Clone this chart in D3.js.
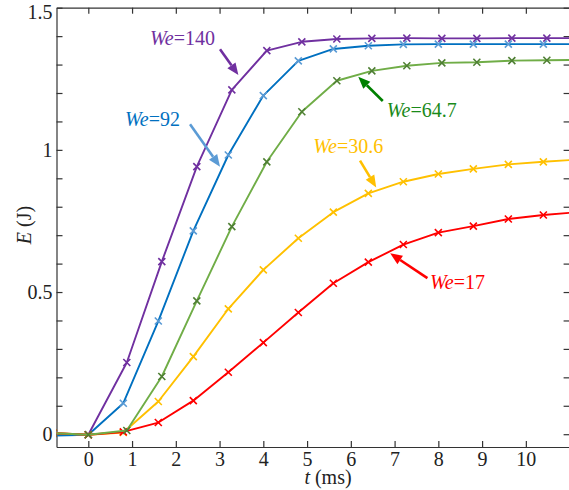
<!DOCTYPE html>
<html>
<head>
<meta charset="utf-8">
<script src="https://cdn.jsdelivr.net/npm/d3@7"></script>
<style>
	body { margin: 0; background: #fff; }
	svg { display: block; }
	.axis text { font-family: "Liberation Serif", "Times New Roman", serif; font-size: 20px; fill: #222; }
	.axis path, .axis line { stroke: #333; stroke-width: 1.2; }
	.ann { font-family: "Liberation Serif", "Times New Roman", serif; font-size: 20px; }
</style>
</head>
<body>
<svg id="chart" width="569" height="490"></svg>
<script>
// sample times (ms): two sampling grids
var tA = [-0.8, 0, 0.8, 1.6, 2.4, 3.2, 4.0, 4.8, 5.6, 6.4, 7.2, 8.0, 8.8, 9.6, 10.4, 11.2];
var tB = [-0.8, 0, 0.88, 1.68, 2.48, 3.28, 4.08, 4.88, 5.68, 6.48, 7.28, 8.08, 8.88, 9.68, 10.48, 11.28];

// E (J) for each Weber number
var e140 = [0.003, -0.002, 0.252, 0.607, 0.941, 1.211, 1.349, 1.380, 1.390, 1.392, 1.393, 1.392, 1.392, 1.393, 1.393, 1.393];
var e92 = [-0.005, -0.002, 0.109, 0.398, 0.715, 0.982, 1.191, 1.313, 1.355, 1.366, 1.371, 1.372, 1.372, 1.372, 1.372, 1.372];
var e647 = [0.004, -0.002, 0.013, 0.203, 0.469, 0.730, 0.958, 1.134, 1.243, 1.278, 1.296, 1.306, 1.308, 1.314, 1.315, 1.317];
var e306 = [0.004, -0.002, 0.006, 0.115, 0.273, 0.441, 0.578, 0.689, 0.781, 0.847, 0.888, 0.915, 0.933, 0.949, 0.958, 0.966];
var e17 = [0.004, -0.002, 0.008, 0.041, 0.118, 0.218, 0.322, 0.428, 0.531, 0.605, 0.667, 0.709, 0.732, 0.757, 0.771, 0.781];

var xTicks = [0, 1, 2, 3, 4, 5, 6, 7, 8, 9, 10];
var yTicks = [0, 0.1, 0.2, 0.3, 0.4, 0.5, 0.6, 0.7, 0.8, 0.9, 1.0, 1.1, 1.2, 1.3, 1.4, 1.5];
var yLabels = {"0": "0", "0.5": "0.5", "1": "1", "1.5": "1.5"};

var series = [
	{name: "140", t: tB, e: e140, line: "#7030a0", mark: "#7030a0"},
	{name: "92", t: tA, e: e92, line: "#0070c0", mark: "#5b9bd5"},
	{name: "30.6", t: tA, e: e306, line: "#ffc000", mark: "#ffc000"},
	{name: "17", t: tA, e: e17, line: "#ff0000", mark: "#ff0000"},
	{name: "64.7", t: tB, e: e647, line: "#70ad47", mark: "#4f7f34"}
];

// annotation: text start + arrow tail/tip, in data units
var notes = [
	{label: "140", color: "#7030a0", arrow: "#7030a0", tx: 1.41, ty: 1.369, a: [3.01, 1.354], b: [3.43, 1.263]},
	{label: "92", color: "#0070c0", arrow: "#5b9bd5", tx: 0.84, ty: 1.085, a: [2.325, 1.090], b: [3.01, 0.941]},
	{label: "64.7", color: "#1a8a1a", arrow: "#008000", tx: 6.82, ty: 1.117, a: [6.73, 1.172], b: [6.17, 1.257]},
	{label: "30.6", color: "#ffc000", arrow: "#ffc000", tx: 5.14, ty: 0.988, a: [6.21, 0.962], b: [6.58, 0.868]},
	{label: "17", color: "#ff0000", arrow: "#ff0000", tx: 7.81, ty: 0.511, a: [7.75, 0.549], b: [6.90, 0.636]}
];

var svg = d3.select("#chart"),
	margin = {top: 7.7, left: 56.5},
	width = 513.1,
	height = 439.3;

var x = d3.scaleLinear().domain([-0.727, 11]).range([0, width]);
var y = d3.scaleLinear().domain([-0.045, 1.5]).range([height, 0]);

var g = svg.append("g").attr("transform", "translate(" + margin.left + "," + margin.top + ")");

g.append("defs").append("clipPath").attr("id", "clip")
	.append("rect").attr("width", width).attr("height", height);

g.append("g").attr("class", "axis")
	.attr("transform", "translate(0," + height + ")")
	.call(d3.axisBottom(x).tickValues(xTicks).tickSize(-6).tickSizeOuter(0).tickPadding(5));
g.append("g").attr("class", "axis")
	.call(d3.axisTop(x).tickValues(xTicks).tickSize(-6).tickSizeOuter(0).tickFormat(""));
var gy = g.append("g").attr("class", "axis")
	.call(d3.axisLeft(y).tickValues(yTicks).tickSize(-6).tickSizeOuter(0).tickPadding(4)
		.tickFormat(function(d) { var k = String(+d.toFixed(1)); return yLabels[k] || ""; }));
// keep the top label inside the picture, like the original
gy.selectAll(".tick text").filter(function(d) { return d === 1.5; }).attr("dy", "0.55em");
g.append("g").attr("class", "axis")
	.attr("transform", "translate(" + width + ",0)")
	.call(d3.axisRight(y).tickValues(yTicks).tickSize(-6).tickSizeOuter(0).tickFormat(""));

var plot = g.append("g").attr("clip-path", "url(#clip)");

var line = d3.line()
	.x(function(d) { return x(d[0]); })
	.y(function(d) { return y(d[1]); });

series.forEach(function(s) {
	var pts = s.t.map(function(t, i) { return [t, s.e[i]]; });
	plot.append("path")
		.attr("d", line(pts))
		.attr("fill", "none")
		.attr("stroke", s.line)
		.attr("stroke-width", 1.9)
		.attr("stroke-linejoin", "round");
	plot.selectAll(null)
		.data(pts)
		.enter().append("path")
		.attr("transform", function(d) { return "translate(" + x(d[0]) + "," + y(d[1]) + ")"; })
		.attr("d", "M-3.5,-3.5L3.5,3.5M-3.5,3.5L3.5,-3.5")
		.attr("stroke", s.mark)
		.attr("stroke-width", 1.6);
});

// annotations with arrows
notes.forEach(function(n) {
	var x1 = x(n.a[0]), y1 = y(n.a[1]), x2 = x(n.b[0]), y2 = y(n.b[1]);
	var ang = Math.atan2(y2 - y1, x2 - x1), hl = 12, hw = 5;
	var bx = x2 - hl * Math.cos(ang), by = y2 - hl * Math.sin(ang);
	g.append("line")
		.attr("x1", x1).attr("y1", y1).attr("x2", bx).attr("y2", by)
		.attr("stroke", n.arrow).attr("stroke-width", 2.6);
	g.append("path")
		.attr("d", "M" + x2 + "," + y2 +
			"L" + (bx + hw * Math.sin(ang)) + "," + (by - hw * Math.cos(ang)) +
			"L" + (bx - hw * Math.sin(ang)) + "," + (by + hw * Math.cos(ang)) + "Z")
		.attr("fill", n.arrow);
	var txt = g.append("text").attr("class", "ann")
		.attr("x", x(n.tx)).attr("y", y(n.ty)).attr("fill", n.color);
	txt.append("tspan").attr("font-style", "italic").text("We");
	txt.append("tspan").text("=" + n.label);
});

// axis titles
var xt = svg.append("text").attr("class", "ann")
	.attr("x", 328).attr("y", 484).attr("text-anchor", "middle").attr("fill", "#222");
xt.append("tspan").attr("font-style", "italic").text("t");
xt.append("tspan").text(" (ms)");

var yt = svg.append("text").attr("class", "ann")
	.attr("transform", "translate(31,225) rotate(-90)")
	.attr("text-anchor", "middle").attr("fill", "#222");
yt.append("tspan").attr("font-style", "italic").text("E");
yt.append("tspan").text(" (J)");
</script>
</body>
</html>
